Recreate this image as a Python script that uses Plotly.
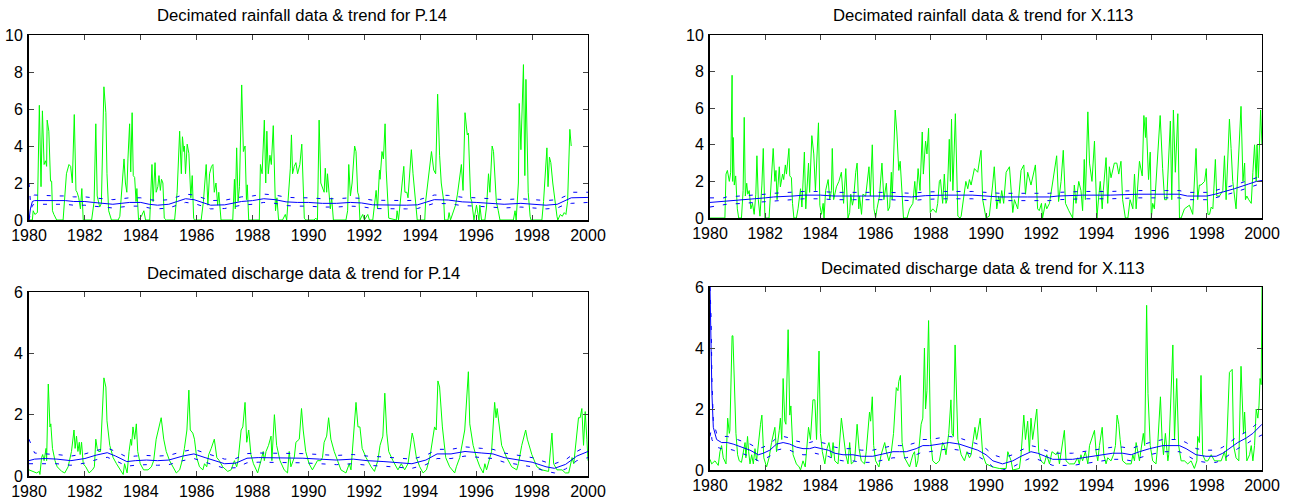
import plotly.graph_objects as go

# ---------------- Panel 1: rainfall P.14 ----------------
rain_p14_year = [1980.00,1980.12,1980.15,1980.21,1980.30,1980.37,1980.43,1980.48,1980.54,1980.59,1980.63,1980.65,1980.71,1980.77,1980.81,1980.84,1980.89,1980.99,
    1981.22,1981.34,1981.43,1981.49,1981.55,1981.62,1981.68,1981.72,1981.78,1981.84,1981.89,1981.94,
    1982.24,1982.33,1982.39,1982.44,1982.53,1982.59,1982.68,1982.75,1982.79,1982.85,1982.95,
    1983.19,1983.25,1983.40,1983.45,1983.50,1983.54,1983.60,1983.64,1983.69,1983.73,1983.78,1983.83,1983.86,1983.92,
    1984.02,1984.11,1984.17,1984.32,1984.40,1984.44,1984.51,1984.55,1984.61,1984.65,1984.70,1984.74,1984.79,1984.84,1984.91,
    1985.21,1985.30,1985.39,1985.45,1985.49,1985.54,1985.56,1985.60,1985.66,1985.72,1985.79,1985.84,1985.89,1985.92,
    1986.16,1986.24,1986.34,1986.40,1986.46,1986.53,1986.58,1986.63,1986.69,1986.75,1986.79,1986.87,
    1987.29,1987.35,1987.38,1987.43,1987.48,1987.53,1987.61,1987.67,1987.73,1987.78,1987.81,1987.86,
    1988.24,1988.28,1988.34,1988.42,1988.47,1988.51,1988.56,1988.62,1988.67,1988.74,1988.82,1988.87,1988.93,
    1989.07,1989.17,1989.22,1989.35,1989.39,1989.43,1989.49,1989.55,1989.61,1989.69,1989.76,1989.85,1989.90,
    1990.20,1990.26,1990.32,1990.34,1990.38,1990.44,1990.56,1990.60,1990.65,1990.68,1990.78,1990.83,1990.89,
    1991.34,1991.40,1991.44,1991.50,1991.56,1991.65,1991.70,1991.76,1991.80,1991.84,1991.94,
    1992.00,1992.12,1992.18,1992.30,1992.42,1992.47,1992.54,1992.56,1992.63,1992.68,1992.74,1992.78,1992.81,1992.87,
    1993.14,1993.17,1993.22,1993.35,1993.41,1993.45,1993.52,1993.56,1993.68,1993.74,1993.86,1993.89,
    1994.16,1994.19,1994.40,1994.48,1994.55,1994.62,1994.69,1994.75,1994.84,1994.87,1994.99,
    1995.03,1995.08,1995.26,1995.33,1995.47,1995.53,1995.60,1995.68,1995.72,1995.80,1995.84,1995.92,
    1996.01,1996.10,1996.13,1996.19,1996.31,1996.37,1996.44,1996.49,1996.57,1996.62,1996.66,1996.72,1996.79,1996.85,
    1997.33,1997.39,1997.43,1997.51,1997.54,1997.60,1997.69,1997.74,1997.78,1997.82,1997.86,1997.93,1997.96,
    1998.35,1998.41,1998.53,1998.57,1998.62,1998.67,1998.74,1998.83,1998.89,1998.92,
    1999.01,1999.08,1999.15,1999.21,1999.27,1999.35,1999.40]
rain_p14_val = [0,0,0.5,0.3,0.4,6.2,1.8,5.9,3.0,3.2,2.9,5.4,4.8,2.1,2.1,0.5,0.3,0,
    0,2.5,3.0,2.9,2.0,5.7,1.6,1.5,1.2,0.6,1.7,0,
    0,1.0,5.2,1.3,0.7,0.9,7.2,5.8,2.5,0.5,0,
    0,0.2,3.3,2.0,1.5,3.3,5.2,2.6,5.8,2.4,2.3,1.0,1.7,0,
    0.2,0.5,0,0,3.0,1.0,3.1,1.5,1.8,2.4,1.6,2.2,2.0,0.1,0,
    0,1.5,4.8,2.5,4.5,3.7,4.0,2.5,4.1,3.6,1.2,2.4,0.1,0,
    0,1.0,3.0,0.8,2.5,2.9,3.0,1.5,2.0,0.8,1.5,0,
    0,2.2,0.6,3.9,1.0,1.8,7.3,3.7,4.0,1.1,1.9,0,
    0,3.0,2.5,5.4,2.0,4.8,2.5,3.5,3.0,5.1,0.5,1.2,0,
    0,0.3,0,2.8,4.6,2.5,2.9,3.1,2.5,3.0,4.1,0.1,0,
    0,0.1,0,2.4,5.4,2.0,1.5,2.8,1.5,2.5,0.6,1.2,0,
    0,0.5,3.0,1.3,2.0,4.0,3.7,1.5,1.3,0,0.3,
    0,0.3,0,0,1.6,0.6,2.7,2.2,3.7,3.3,5.2,2.7,1.5,0.1,
    0,0.5,0,1.8,2.9,1.5,1.5,1.2,3.8,2.5,0.5,0,
    0,1.0,3.7,2.7,2.5,6.8,3.5,2.0,1.0,0,0,
    0.4,0,0.8,1.4,3.0,1.6,5.8,4.6,4.7,1.2,1.0,0,
    0.8,0,0.8,0,0,0.7,2.5,1.5,4.0,3.7,2.4,1.0,0.5,0,
    0,0.5,0,2.0,6.3,3.8,8.4,2.4,7.6,4.0,1.5,0.2,0,
    0,1.0,3.9,1.8,3.4,3.1,2.0,0.8,0.2,0,
    0.3,0.2,0.4,0.3,1.0,4.9,4.0]

trend_rain_p14_year = [1980.0,1980.05,1980.12,1980.2,1981.0,1981.3,1981.6,1982.0,1982.3,1982.6,1983.0,1983.3,1983.6,1984.0,1984.3,1984.6,
    1985.0,1985.3,1985.6,1985.9,1986.2,1986.5,1987.0,1987.3,1987.6,1988.0,1988.4,1988.8,1989.2,1989.6,1990.0,1990.5,
    1991.0,1991.5,1991.9,1992.3,1992.8,1993.5,1993.9,1994.2,1994.5,1995.0,1995.5,1996.0,1996.5,1997.0,1997.6,1998.0,
    1998.5,1998.9,1999.2,1999.4,2000.0]
trend_rain_p14_val = [0,0.6,1.0,1.05,1.05,1.05,1.0,1.0,0.95,0.9,0.85,0.9,0.95,0.95,0.85,0.8,
    0.85,1.0,1.15,1.1,0.95,0.8,0.82,0.9,1.0,1.05,1.15,1.1,0.98,0.95,0.95,0.9,
    0.9,0.95,0.92,0.82,0.8,0.8,0.82,0.95,1.1,1.08,0.98,0.95,0.92,0.85,0.9,0.85,
    0.8,0.85,1.05,1.2,1.22]
upper_rain_p14_val = [2.0,1.0,1.3,1.35,1.3,1.3,1.25,1.25,1.2,1.15,1.1,1.15,1.2,1.2,1.1,1.05,
    1.1,1.25,1.4,1.35,1.2,1.05,1.07,1.15,1.25,1.3,1.4,1.35,1.23,1.2,1.2,1.15,
    1.15,1.2,1.17,1.07,1.05,1.05,1.07,1.2,1.35,1.33,1.23,1.2,1.17,1.1,1.15,1.1,
    1.05,1.1,1.3,1.5,1.5]
lower_rain_p14_val = [0,0.3,0.8,0.85,0.85,0.85,0.8,0.8,0.75,0.7,0.65,0.7,0.75,0.75,0.65,0.6,
    0.65,0.8,0.95,0.9,0.75,0.6,0.62,0.7,0.8,0.85,0.95,0.9,0.78,0.75,0.75,0.7,
    0.7,0.75,0.72,0.62,0.6,0.6,0.62,0.75,0.9,0.88,0.78,0.75,0.72,0.65,0.7,0.65,
    0.6,0.65,0.85,0.9,0.95]

# ---------------- Panel 2: rainfall X.113 ----------------
rain_x113_year = [1980.00,1980.54,1980.58,1980.63,1980.70,1980.75,1980.80,1980.82,1980.84,1980.88,1980.93,1980.99,
    1981.04,1981.14,1981.20,1981.24,1981.28,1981.33,1981.37,1981.42,1981.48,1981.54,1981.60,1981.66,1981.70,1981.75,1981.81,1981.88,1981.93,1981.99,
    1982.14,1982.20,1982.29,1982.35,1982.39,1982.43,1982.51,1982.55,1982.63,1982.67,1982.73,1982.77,1982.86,1982.89,1982.95,1982.99,
    1983.04,1983.13,1983.19,1983.28,1983.33,1983.42,1983.47,1983.57,1983.61,1983.69,1983.76,1983.82,1983.93,1983.98,
    1984.04,1984.10,1984.13,1984.19,1984.28,1984.34,1984.40,1984.43,1984.48,1984.58,1984.67,1984.76,1984.84,1984.92,
    1985.00,1985.06,1985.10,1985.16,1985.20,1985.28,1985.33,1985.39,1985.42,1985.49,1985.54,1985.64,1985.76,1985.81,1985.88,1985.94,
    1986.00,1986.05,1986.14,1986.23,1986.30,1986.39,1986.45,1986.51,1986.57,1986.60,1986.71,1986.77,1986.84,1986.89,1986.96,
    1987.01,1987.14,1987.23,1987.35,1987.42,1987.47,1987.54,1987.61,1987.69,1987.73,1987.81,1987.86,1987.92,1987.98,
    1988.07,1988.19,1988.25,1988.31,1988.35,1988.43,1988.49,1988.55,1988.59,1988.67,1988.71,1988.75,1988.80,1988.89,1988.98,
    1989.06,1989.10,1989.27,1989.34,1989.40,1989.46,1989.58,1989.70,1989.82,1989.88,
    1990.00,1990.12,1990.24,1990.30,1990.39,1990.46,1990.51,1990.57,1990.64,1990.73,1990.85,1990.91,1990.97,
    1991.03,1991.15,1991.27,1991.37,1991.43,1991.51,1991.63,1991.79,1991.87,1991.93,
    1992.01,1992.05,1992.15,1992.20,1992.30,1992.42,1992.56,1992.63,1992.72,1992.80,1992.88,
    1993.00,1993.14,1993.20,1993.26,1993.36,1993.44,1993.50,1993.56,1993.60,1993.69,1993.75,1993.84,1993.93,1993.99,
    1994.02,1994.08,1994.14,1994.21,1994.25,1994.35,1994.41,1994.47,1994.53,1994.65,1994.74,1994.81,1994.89,1994.95,
    1995.05,1995.14,1995.22,1995.32,1995.38,1995.44,1995.56,1995.66,1995.72,1995.78,1995.80,1995.89,1995.95,1995.99,
    1996.04,1996.10,1996.16,1996.31,1996.40,1996.47,1996.55,1996.61,1996.68,1996.73,1996.79,1996.86,1996.95,
    1997.01,1997.07,1997.19,1997.37,1997.49,1997.61,1997.67,1997.73,1997.79,1997.92,1997.98,
    1998.04,1998.10,1998.16,1998.22,1998.31,1998.36,1998.46,1998.58,1998.64,1998.70,1998.82,1998.88,1998.94,
    1999.06,1999.12,1999.24,1999.31,1999.37,1999.40,1999.45,1999.52,1999.61,1999.67,1999.73,1999.79,1999.82,1999.87,1999.95,2000.00]
rain_x113_val = [0,0,2.4,2.6,2.0,2.5,7.8,2.0,4.4,1.8,2.3,0.5,
    0,0,1.5,5.5,1.2,1.9,1.3,1.5,0.5,0.8,0.2,1.3,3.4,1.0,0.1,1.8,3.8,0,
    0,1.8,3.8,2.0,2.6,1.0,2.8,1.7,2.4,2.1,2.9,2.4,3.8,2.3,2.2,0.8,
    0,0,0.5,1.6,0.6,3.6,0.5,3.0,1.4,4.5,3.5,1.5,5.2,0.7,
    0.2,0.8,0,1.5,2.1,1.0,1.5,3.8,1.0,1.7,2.0,2.5,0.8,2.7,
    0,0.3,1.3,0.7,1.0,2.5,3.0,0.5,1.2,0.2,1.3,1.2,2.8,1.2,4.0,0.5,
    0,0.5,1.2,3.0,1.0,1.9,0.4,0.6,2.5,1.0,5.9,4.7,2.6,3.1,0.8,
    0,0,0.5,0.8,2.0,1.0,2.7,1.5,4.7,2.4,4.2,3.5,4.9,0.3,
    0.5,0.3,0.8,2.0,2.1,0.8,2.4,0.8,1.0,4.3,2.0,5.4,1.5,5.7,0.1,
    0,0.1,2.0,1.6,2.1,1.8,2.7,2.5,3.7,1.0,
    0,0.1,1.8,2.8,0.5,1.2,0.8,1.5,0.8,2.5,2.8,1.5,0.3,
    1.0,0.5,2.6,2.9,1.3,2.5,1.8,2.9,0.5,0.4,
    0.8,0,0.8,0.5,0.8,2.1,3.4,0.9,2.0,3.7,0.8,
    0.4,0,1.8,0.8,2.0,1.5,0.4,3.2,1.0,5.8,3.0,2.0,4.2,1.0,
    0,1.1,2.0,0.5,1.5,3.3,0.8,2.8,2.2,3.0,3.0,2.4,3.1,1.0,
    0,0,1.0,0.5,2.4,0.5,3.1,2.3,5.6,4.4,5.5,2.1,3.6,0,
    0.8,0.5,2.0,5.6,2.7,1.0,1.0,3.0,5.3,1.0,5.9,2.5,5.7,
    0,0,0.5,0.7,0.2,3.8,1.0,1.8,1.8,2.0,2.7,
    0.2,0.2,0.6,0.5,3.2,1.2,1.2,1.5,3.4,1.0,5.4,3.8,2.0,
    0.5,2.5,6.1,2.0,3.0,1.0,1.2,1.0,0.8,2.5,4.0,2.0,4.0,2.2,5.9,4.0]

trend_rain_x113_year = [1980.0,1980.5,1980.6,1981.2,1981.6,1982.0,1982.3,1983.0,1983.4,1984.0,1984.5,1985.5,1986.5,1987.3,1987.8,
    1988.5,1989.5,1990.0,1990.5,1991.5,1992.3,1992.6,1993.5,1994.5,1995.5,1996.5,1997.0,1997.3,1998.0,1998.3,
    1998.7,1999.0,1999.5,1999.8,2000.0]
trend_rain_x113_val = [0.85,0.9,0.95,1.0,1.05,1.1,1.15,1.2,1.25,1.25,1.2,1.2,1.2,1.15,1.22,
    1.25,1.25,1.2,1.15,1.15,1.15,1.2,1.25,1.25,1.3,1.3,1.3,1.2,1.2,1.3,
    1.45,1.6,1.85,2.0,2.05]
upper_rain_x113_val = [1.1,1.1,1.15,1.2,1.25,1.3,1.35,1.4,1.45,1.45,1.4,1.4,1.4,1.35,1.42,
    1.45,1.45,1.4,1.35,1.35,1.35,1.4,1.45,1.45,1.5,1.5,1.5,1.4,1.4,1.5,
    1.65,1.8,2.05,2.2,2.25]
lower_rain_x113_val = [0.6,0.7,0.75,0.8,0.85,0.9,0.95,1.0,1.05,1.05,1.0,1.0,1.0,0.95,1.02,
    1.05,1.05,1.0,0.95,0.95,0.95,1.0,1.05,1.05,1.1,1.1,1.1,1.0,1.0,1.1,
    1.25,1.4,1.65,1.8,1.85]

# ---------------- Panel 3: discharge P.14 ----------------
dis_p14_year = [1980.00,1980.15,1980.27,1980.37,1980.39,1980.45,1980.49,1980.54,1980.61,1980.63,1980.69,1980.75,1980.78,1980.84,1980.93,
    1981.01,1981.17,1981.28,1981.40,1981.52,1981.61,1981.65,1981.70,1981.75,1981.80,1981.83,1981.88,1981.94,
    1982.03,1982.15,1982.27,1982.34,1982.39,1982.44,1982.49,1982.56,1982.68,1982.75,1982.79,1982.89,
    1983.01,1983.13,1983.27,1983.37,1983.42,1983.51,1983.58,1983.64,1983.67,1983.72,1983.78,1983.84,1983.89,1983.98,
    1984.10,1984.26,1984.38,1984.46,1984.55,1984.73,1984.82,1984.91,
    1985.03,1985.15,1985.27,1985.39,1985.48,1985.56,1985.65,1985.72,1985.77,1985.86,1985.92,
    1986.00,1986.10,1986.22,1986.28,1986.36,1986.43,1986.52,1986.63,1986.72,1986.81,1986.93,
    1987.11,1987.23,1987.35,1987.43,1987.48,1987.59,1987.65,1987.73,1987.79,1987.86,1987.94,
    1988.03,1988.18,1988.30,1988.38,1988.42,1988.48,1988.57,1988.66,1988.69,1988.78,1988.86,1988.98,
    1989.13,1989.25,1989.31,1989.37,1989.49,1989.55,1989.67,1989.75,1989.81,1989.90,
    1990.02,1990.14,1990.32,1990.44,1990.50,1990.56,1990.65,1990.72,1990.80,1990.92,
    1991.04,1991.16,1991.34,1991.46,1991.52,1991.60,1991.70,1991.77,1991.84,1991.92,
    1992.06,1992.24,1992.36,1992.48,1992.56,1992.66,1992.73,1992.80,1992.87,
    1993.02,1993.20,1993.32,1993.44,1993.56,1993.71,1993.76,1993.86,1993.98,
    1994.10,1994.22,1994.34,1994.51,1994.57,1994.63,1994.69,1994.79,1994.91,
    1995.05,1995.23,1995.29,1995.41,1995.59,1995.72,1995.77,1995.89,
    1996.01,1996.13,1996.25,1996.31,1996.37,1996.49,1996.55,1996.66,1996.71,1996.75,1996.91,
    1997.09,1997.27,1997.45,1997.51,1997.63,1997.77,1997.83,1997.99,
    1998.17,1998.35,1998.59,1998.71,1998.77,1998.89,
    1999.07,1999.19,1999.31,1999.43,1999.49,1999.58,1999.66,1999.72,1999.78,1999.84,1999.90,1999.96,2000.00]
dis_p14_val = [0.2,0.15,0.1,0.15,0.05,0.6,0.7,0.5,0.9,0.5,3.0,1.6,1.7,0.9,0.5,
    0.3,0.15,0.1,0.3,0.8,1.5,0.9,1.3,0.8,1.1,0.7,1.1,0.4,
    0.3,0.1,0.2,0.3,1.2,0.9,0.8,0.8,3.2,2.9,1.8,1.0,
    0.6,0.4,0.2,0.05,0.4,0.1,0.8,1.2,1.0,1.6,1.2,1.7,0.8,0.4,
    0.2,0.2,0.3,0.5,1.2,1.9,1.2,0.8,
    0.5,0.3,0.1,0.2,0.5,0.9,1.5,2.8,1.5,1.4,1.2,
    0.6,0.3,0.2,0.4,0.3,0.7,0.9,1.2,0.6,0.5,0.3,
    0.15,0.2,0.5,0.3,0.5,1.5,1.6,2.4,1.1,1.5,0.7,
    0.4,0.1,0.5,0.8,0.5,0.8,1.0,1.3,0.5,2.0,1.0,0.5,
    0.2,0.1,0.8,0.3,0.6,1.1,1.2,2.2,1.5,0.8,
    0.4,0.2,0.5,0.5,0.6,1.1,1.3,1.9,1.2,0.8,
    0.5,0.2,0.1,0.4,0.2,1.1,2.4,1.6,1.6,0.9,
    0.6,0.3,0.15,0.5,1.0,1.3,2.7,1.4,0.8,
    0.5,0.2,0.4,0.2,0.4,1.4,1.2,0.6,0.3,
    0.1,0.2,0.6,1.6,1.5,3.1,2.9,1.6,0.6,
    0.3,0.1,0.3,0.6,1.5,3.4,1.7,1.0,
    0.6,0.3,0.1,0.4,0.2,0.6,0.8,2.4,1.9,2.2,1.0,
    0.6,0.3,0.2,0.4,1.0,1.5,1.2,0.7,
    0.3,0.2,0.15,1.4,0.4,0.2,
    0.2,0.1,0.1,0.6,0.4,1.2,1.9,1.9,2.2,1.0,2.1,1.2,0.5]

trend_dis_p14_year = [1980.0,1980.2,1980.6,1981.0,1981.5,1982.0,1982.4,1982.8,1983.1,1983.5,1983.8,1984.2,1984.6,1985.0,1985.5,
    1985.9,1986.3,1986.7,1987.0,1987.4,1987.8,1988.2,1989.0,1989.8,1990.4,1991.0,1991.6,1992.1,1992.7,1993.3,
    1993.7,1994.2,1994.6,1995.1,1995.6,1996.2,1996.6,1997.0,1997.5,1998.0,1998.5,1998.8,1999.2,1999.6,2000.0]
trend_dis_p14_val = [0.5,0.55,0.57,0.55,0.5,0.57,0.68,0.76,0.65,0.47,0.5,0.52,0.5,0.52,0.65,
    0.72,0.6,0.48,0.4,0.42,0.58,0.6,0.6,0.58,0.55,0.52,0.55,0.5,0.47,0.42,
    0.4,0.52,0.72,0.72,0.8,0.75,0.72,0.6,0.52,0.45,0.3,0.25,0.38,0.65,0.8]
upper_dis_p14_val = [1.2,0.75,0.72,0.7,0.65,0.72,0.83,0.91,0.8,0.62,0.65,0.67,0.65,0.67,0.8,
    0.87,0.75,0.63,0.55,0.57,0.73,0.75,0.75,0.73,0.7,0.67,0.7,0.65,0.62,0.57,
    0.55,0.67,0.87,0.87,0.95,0.9,0.87,0.75,0.67,0.6,0.45,0.4,0.53,0.8,1.0]
lower_dis_p14_val = [0.4,0.4,0.42,0.4,0.35,0.42,0.53,0.61,0.5,0.32,0.35,0.37,0.35,0.37,0.5,
    0.57,0.45,0.33,0.25,0.27,0.43,0.45,0.45,0.43,0.4,0.37,0.4,0.35,0.32,0.27,
    0.25,0.37,0.57,0.57,0.65,0.6,0.57,0.45,0.37,0.3,0.15,0.1,0.23,0.5,0.6]

# ---------------- Panel 4: discharge X.113 ----------------
dis_x113_year = [1980.00,1980.06,1980.18,1980.30,1980.36,1980.42,1980.48,1980.58,1980.64,1980.70,1980.72,1980.80,1980.83,1980.88,1980.94,
    1981.00,1981.06,1981.14,1981.20,1981.27,1981.30,1981.36,1981.40,1981.45,1981.51,1981.57,1981.63,1981.69,1981.83,1981.88,1981.95,
    1982.05,1982.14,1982.23,1982.35,1982.41,1982.51,1982.55,1982.60,1982.65,1982.71,1982.75,1982.83,1982.89,1982.93,
    1983.01,1983.13,1983.23,1983.28,1983.37,1983.45,1983.49,1983.57,1983.64,1983.73,1983.80,1983.86,1983.95,
    1984.00,1984.07,1984.16,1984.24,1984.31,1984.40,1984.46,1984.52,1984.64,1984.76,1984.84,1984.92,
    1985.00,1985.06,1985.12,1985.24,1985.33,1985.40,1985.48,1985.60,1985.66,1985.78,1985.82,1985.88,1985.93,
    1986.00,1986.12,1986.20,1986.33,1986.39,1986.48,1986.57,1986.65,1986.75,1986.81,1986.84,1986.90,1986.96,
    1987.05,1987.11,1987.23,1987.29,1987.35,1987.41,1987.47,1987.53,1987.59,1987.65,1987.71,1987.77,1987.81,1987.86,1987.92,1987.99,
    1988.07,1988.19,1988.31,1988.37,1988.43,1988.49,1988.55,1988.65,1988.73,1988.77,1988.82,1988.88,1988.98,
    1989.10,1989.22,1989.31,1989.40,1989.46,1989.54,1989.60,1989.66,1989.79,1989.88,
    1990.00,1990.24,1990.48,1990.73,1990.79,1990.91,1990.97,
    1991.21,1991.27,1991.37,1991.43,1991.51,1991.57,1991.63,1991.69,1991.84,1991.91,1991.99,
    1992.11,1992.20,1992.30,1992.39,1992.54,1992.60,1992.66,1992.84,1992.90,
    1993.02,1993.20,1993.32,1993.38,1993.44,1993.50,1993.60,1993.69,1993.75,1993.93,1993.99,
    1994.05,1994.11,1994.21,1994.27,1994.35,1994.41,1994.53,1994.62,1994.69,1994.75,1994.81,1994.86,1994.95,
    1995.08,1995.26,1995.32,1995.38,1995.44,1995.56,1995.70,1995.75,1995.82,1995.87,1995.95,
    1996.04,1996.16,1996.22,1996.32,1996.38,1996.43,1996.50,1996.59,1996.62,1996.77,1996.83,1996.91,1996.98,
    1997.07,1997.19,1997.31,1997.43,1997.55,1997.64,1997.67,1997.73,1997.79,1997.85,1997.95,
    1998.04,1998.16,1998.28,1998.40,1998.52,1998.64,1998.70,1998.82,1998.92,1998.97,
    1999.06,1999.16,1999.24,1999.33,1999.37,1999.45,1999.55,1999.61,1999.67,1999.73,1999.79,1999.85,1999.89,1999.93,1999.97,2000.00]
dis_x113_val = [0.35,0.2,0.3,0.15,0.6,0.8,0.4,0.2,1.7,1.2,1.3,4.4,4.4,2.5,1.2,
    0.5,0.3,0.25,0.6,0.9,0.4,1.1,0.6,0.2,0.5,0.2,0.7,0.3,1.5,1.8,0.4,
    0.1,0.4,0.9,1.4,0.6,1.3,1.7,1.0,3.0,1.6,1.5,4.6,1.8,2.1,
    0.5,0.2,0.1,0.0,0.3,0.1,0.5,1.4,1.0,2.3,2.3,1.0,3.9,
    1.2,0.6,0.2,0.7,0.9,0.4,0.9,0.3,0.2,1.7,1.0,0.5,
    0.2,0.9,0.2,0.3,1.5,0.7,0.3,0.2,0.6,1.9,1.6,2.4,0.8,
    0.3,0.1,0.5,0.9,0.6,0.3,0.6,1.2,2.7,2.6,2.9,3.1,0.9,
    0.4,0.3,0.1,0.3,0.5,0.6,0.1,0.3,0.9,1.5,1.7,4.0,2.0,2.6,4.9,1.0,
    0.3,0.2,0.3,0.6,0.9,0.8,0.5,1.2,2.3,1.2,1.1,4.1,1.0,
    0.5,0.3,0.6,0.4,0.5,1.0,1.4,1.0,1.7,0.5,
    0.2,0.1,0.05,0.05,0.6,0.3,0.0,
    0.05,0.5,1.8,1.0,1.6,0.6,1.7,1.0,2.0,0.6,0.3,
    0.2,0.5,0.2,0.6,0.5,0.6,0.2,1.3,0.3,
    0.2,0.2,0.4,0.2,0.5,0.3,0.6,0.2,0.8,1.3,0.6,
    0.3,0.8,1.4,0.5,0.2,0.4,0.3,0.5,0.8,1.8,1.5,1.0,0.3,
    0.2,0.2,0.5,0.3,0.9,0.3,1.2,0.8,5.4,2.5,0.8,
    0.3,0.2,0.8,2.4,1.0,0.5,1.2,0.3,0.5,4.1,1.0,3.0,0.8,
    0.3,0.3,0.2,0.3,0.05,0.3,1.1,0.9,3.1,0.5,0.3,
    0.3,0.5,0.3,0.3,0.3,0.6,0.3,3.2,3.3,0.8,
    0.4,0.3,3.4,1.2,1.9,0.3,0.5,0.8,0.3,0.8,2.0,1.7,2.1,3.0,2.8,6.0]

trend_dis_x113_year = [1980.00,1980.04,1980.07,1980.12,1980.24,1980.42,1980.63,1980.84,1981.14,1981.45,1981.75,1981.93,1982.17,1982.41,
    1982.65,1982.89,1983.13,1983.37,1983.61,1983.80,1984.04,1984.28,1984.52,1984.82,1985.18,1985.48,1985.90,1986.14,
    1986.39,1986.63,1986.87,1987.11,1987.47,1987.71,1987.95,1988.31,1988.67,1989.03,1989.40,1989.70,1990.00,1990.25,
    1990.60,1990.97,1991.27,1991.63,1991.87,1992.17,1992.42,1992.78,1993.14,1993.50,1993.87,1994.23,1994.59,1994.95,
    1995.26,1995.56,1995.93,1996.41,1997.01,1997.25,1997.61,1997.97,1998.34,1998.58,1998.82,1999.12,1999.43,1999.67,2000.00]
trend_dis_x113_val = [6.0,4.0,2.5,1.4,1.0,0.9,0.9,0.85,0.75,0.65,0.5,0.55,0.65,0.85,
    0.9,0.85,0.75,0.7,0.7,0.75,0.7,0.65,0.55,0.5,0.5,0.45,0.45,0.5,
    0.55,0.6,0.6,0.6,0.7,0.8,0.8,0.85,0.9,0.85,0.75,0.65,0.5,0.3,
    0.2,0.3,0.45,0.6,0.55,0.45,0.35,0.35,0.35,0.4,0.45,0.5,0.55,0.55,
    0.5,0.6,0.7,0.8,0.8,0.7,0.5,0.45,0.45,0.55,0.7,0.9,1.05,1.2,1.5]
upper_dis_x113_val = [6.0,5.0,3.0,1.6,1.2,1.1,1.1,1.05,0.95,0.85,0.7,0.75,0.85,1.05,
    1.1,1.05,0.95,0.9,0.9,0.95,0.9,0.85,0.75,0.7,0.7,0.65,0.65,0.7,
    0.75,0.8,0.8,0.8,0.9,1.0,1.0,1.05,1.1,1.05,0.95,0.85,0.7,0.5,
    0.4,0.5,0.65,0.8,0.75,0.65,0.55,0.55,0.55,0.6,0.65,0.7,0.75,0.75,
    0.7,0.8,0.9,1.0,1.0,0.9,0.7,0.65,0.65,0.75,0.9,1.1,1.25,1.4,1.7]
lower_dis_x113_val = [1.1,1.3,1.0,0.9,0.75,0.7,0.7,0.65,0.55,0.45,0.3,0.35,0.45,0.65,
    0.7,0.65,0.55,0.5,0.5,0.55,0.5,0.45,0.35,0.3,0.3,0.25,0.25,0.3,
    0.35,0.4,0.4,0.4,0.5,0.6,0.6,0.65,0.7,0.65,0.55,0.45,0.3,0.1,
    0.0,0.1,0.25,0.4,0.35,0.25,0.15,0.15,0.15,0.2,0.25,0.3,0.35,0.35,
    0.3,0.4,0.5,0.6,0.6,0.5,0.3,0.25,0.25,0.35,0.5,0.7,0.85,1.0,1.15]

titles = ["Decimated rainfall data & trend for P.14",
          "Decimated rainfall data & trend for X.113",
          "Decimated discharge data & trend for P.14",
          "Decimated discharge data & trend for X.113"]
year_ticks = [1980, 1982, 1984, 1986, 1988, 1990, 1992, 1994, 1996, 1998, 2000]

W, H = 1290, 502
# plot-area boxes in pixels: (left, right, top, bottom)
boxes = [(29, 588, 35, 220), (710, 1262, 35, 218), (29, 588, 292, 476), (710, 1262, 287, 470)]
yranges = [[0, 10], [0, 10], [0, 6], [0, 6]]
yticks = [[0, 2, 4, 6, 8, 10], [0, 2, 4, 6, 8, 10], [0, 2, 4, 6], [0, 2, 4, 6]]
title_pos = [(302, 16), (983, 16), (303, 273), (983, 268)]

panels = [
    (rain_p14_year, rain_p14_val, trend_rain_p14_year, trend_rain_p14_val, upper_rain_p14_val, lower_rain_p14_val),
    (rain_x113_year, rain_x113_val, trend_rain_x113_year, trend_rain_x113_val, upper_rain_x113_val, lower_rain_x113_val),
    (dis_p14_year, dis_p14_val, trend_dis_p14_year, trend_dis_p14_val, upper_dis_p14_val, lower_dis_p14_val),
    (dis_x113_year, dis_x113_val, trend_dis_x113_year, trend_dis_x113_val, upper_dis_x113_val, lower_dis_x113_val),
]

FONT = "Arial, 'Liberation Sans', sans-serif"
fig = go.Figure()
layout = dict(template="none", width=W, height=H, margin=dict(l=0, r=0, t=0, b=0, pad=0),
              paper_bgcolor="white", plot_bgcolor="white", showlegend=False,
              font=dict(family=FONT, size=15, color="black"))
annotations = []
for i, (dx, dy, tx, ty, up, lo) in enumerate(panels):
    n = "" if i == 0 else str(i + 1)
    xa, ya = "x" + n, "y" + n
    xo, yo = "x" + str(i + 5), "y" + str(i + 5)
    # data on the main (bottom/left) axes
    fig.add_trace(go.Scatter(x=dx, y=dy, mode="lines", line=dict(color="#00ff00", width=1),
                             xaxis=xa, yaxis=ya, hoverinfo="skip"))
    # trend and bounds on the overlay (top/right) axes, same ranges
    fig.add_trace(go.Scatter(x=tx, y=up, mode="lines", line=dict(color="#0000ff", width=1, dash="4px,9px"),
                             xaxis=xo, yaxis=yo, hoverinfo="skip"))
    fig.add_trace(go.Scatter(x=tx, y=lo, mode="lines", line=dict(color="#0000ff", width=1, dash="4px,9px"),
                             xaxis=xo, yaxis=yo, hoverinfo="skip"))
    fig.add_trace(go.Scatter(x=tx, y=ty, mode="lines", line=dict(color="#0000ff", width=1),
                             xaxis=xo, yaxis=yo, hoverinfo="skip"))
    l, r, t, b = boxes[i]
    xdom = [l / W, r / W]
    ydom = [1 - b / H, 1 - t / H]
    common = dict(showline=True, linecolor="black", ticks="inside", ticklen=5, tickcolor="#444",
                  showgrid=False, zeroline=False, automargin=False, fixedrange=True,
                  tickfont=dict(family=FONT, size=16, color="black"))
    # main (bottom / left) axes, drawn heavier like the original
    layout["xaxis" + n] = dict(domain=xdom, range=[1980, 2000], tickvals=year_ticks, linewidth=2,
                               anchor=ya, ticklabelstandoff=0, **common)
    layout["yaxis" + n] = dict(domain=ydom, range=yranges[i], tickvals=yticks[i], linewidth=2,
                               anchor=xa, ticklabelstandoff=1, **common)
    # thin top / right box edges with mirrored inside ticks
    layout["xaxis" + str(i + 5)] = dict(domain=xdom, range=[1980, 2000], tickvals=year_ticks, linewidth=1,
                                        overlaying=xa, side="top", anchor=yo, showticklabels=False, **common)
    layout["yaxis" + str(i + 5)] = dict(domain=ydom, range=yranges[i], tickvals=yticks[i], linewidth=1,
                                        overlaying=ya, side="right", anchor=xo, showticklabels=False, **common)
    cx, cy = title_pos[i]
    annotations.append(dict(text=titles[i], x=cx / W, y=1 - cy / H, xref="paper", yref="paper",
                            xanchor="center", yanchor="middle", showarrow=False,
                            font=dict(family=FONT, size=16.7, color="black")))
layout["annotations"] = annotations
fig.update_layout(**layout)
fig.write_html("out.html", config={"displayModeBar": False, "staticPlot": True},
               post_script="document.body.style.margin='0';document.body.style.overflow='hidden';")
